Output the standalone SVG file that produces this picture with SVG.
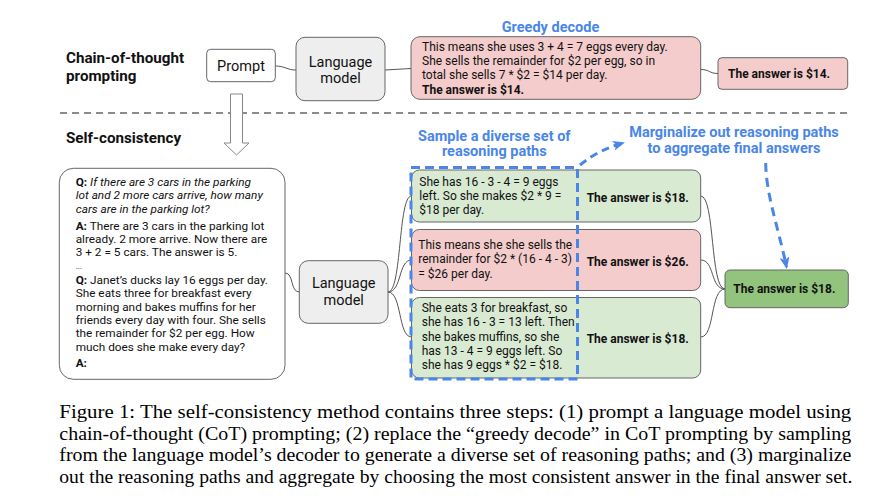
<svg xmlns="http://www.w3.org/2000/svg" width="878" height="504" viewBox="0 0 878 504">
<style>
text{font-family:Roboto,"Liberation Sans",sans-serif;fill:#111}
.h{font-weight:700;font-size:15.2px}
.blue{font-weight:700;font-size:14.5px;fill:#4a86e8;text-anchor:middle}
.lm{font-size:14.5px;text-anchor:middle}
.t{font-size:12px}
.p{font-size:11.8px}
.b{font-weight:700}
.i{font-style:italic}
.ans{font-size:12px;font-weight:700}
.box{stroke:#666;stroke-width:1}
.conn path{fill:none;stroke:#555;stroke-width:1}
.cap{font-family:"Liberation Serif","Times New Roman",serif;font-size:19.5px;fill:#000}
</style>
<defs>
<marker id="ah" viewBox="0 0 12 10" refX="10" refY="5" markerWidth="12" markerHeight="10" markerUnits="userSpaceOnUse" orient="auto">
<path d="M0,0 L12,5 L0,10 L3,5 Z" fill="#4a86e8"/>
</marker>
</defs>
<rect width="878" height="504" fill="#fff"/>

<!-- section labels -->
<g id="labels">
<text class="h" x="66" y="63">Chain-of-thought</text>
<text class="h" x="66" y="80.5">prompting</text>
<text class="h" x="66" y="143.3">Self-consistency</text>
<text class="blue" x="550.5" y="31.7">Greedy decode</text>
<text class="blue" x="494.3" y="140.7">Sample a diverse set of</text>
<text class="blue" x="494.3" y="156">reasoning paths</text>
<text class="blue" x="734" y="137.3">Marginalize out reasoning paths</text>
<text class="blue" x="734" y="153.3">to aggregate final answers</text>
</g>

<!-- separator -->
<line x1="60" y1="113" x2="847" y2="113" stroke="#666" stroke-width="1.5" stroke-dasharray="7 5"/>

<!-- connectors -->
<g id="connectors" class="conn">
<path d="M275.3,66 C285,66 287,70 296,70"/>
<path d="M385,70 L411,68.5"/>
<path d="M700.7,69.5 C710,69.5 709,73.5 718,73.5"/>
<path d="M285,273 C294,273 290,292 299.3,292"/>
<path d="M388,292 C402,292 398,196 411.5,196"/>
<path d="M388,292 C402,292 398,260 411.5,260"/>
<path d="M388,292 C402,292 398,337 411.5,337"/>
<path d="M700.7,196 C715,196 710,289 725,289"/>
<path d="M700.7,260 C715,260 710,289 725,289"/>
<path d="M700.7,337 C715,337 710,289 725,289"/>
</g>

<!-- hollow arrow -->
<g id="cot-to-sc">
<path d="M230.5,94 L242.5,94 L242.5,143 L249,143 L236.5,155 L224,143 L230.5,143 Z" fill="#fff" stroke="#888" stroke-width="1"/>
</g>

<g id="prompt">
<rect class="box" x="206.7" y="49.3" width="68.6" height="32.4" rx="4" fill="#fff"/>
<text class="lm" x="241" y="70.7">Prompt</text>
</g>

<g id="lm1">
<rect class="box" x="296" y="37.3" width="89" height="63.4" rx="9" fill="#eee"/>
<text class="lm" x="340.5" y="66.7">Language</text>
<text class="lm" x="340.5" y="82.5">model</text>
</g>

<g id="greedy">
<rect class="box" x="411" y="36.7" width="289.7" height="62.6" rx="9" fill="#f4cccc"/>
<text class="t" x="422" y="51">This means she uses 3 + 4 = 7 eggs every day.</text>
<text class="t" x="422" y="65.2">She sells the remainder for $2 per egg, so in</text>
<text class="t" x="422" y="79.4">total she sells 7 * $2 = $14 per day.</text>
<text class="t b" x="422" y="93.6">The answer is $14.</text>
</g>

<g id="greedy-answer">
<rect class="box" x="718" y="57.7" width="129.7" height="31.6" rx="4" fill="#f4cccc"/>
<text class="ans" x="728" y="77.7">The answer is $14.</text>
</g>

<g id="sc-prompt">
<rect class="box" x="59.3" y="168.3" width="225.7" height="211" rx="14" fill="#fff"/>
<text class="p" x="75.7" y="186"><tspan class="b">Q:</tspan><tspan class="i"> If there are 3 cars in the parking</tspan></text>
<text class="p i" x="75.7" y="199.3">lot and 2 more cars arrive, how many</text>
<text class="p i" x="75.7" y="212.6">cars are in the parking lot?</text>
<text class="p" x="75.7" y="229.8"><tspan class="b">A:</tspan> There are 3 cars in the parking lot</text>
<text class="p" x="75.7" y="243.1">already. 2 more arrive. Now there are</text>
<text class="p" x="75.7" y="256.4">3 + 2 = 5 cars. The answer is 5.</text>
<text class="p" x="75.7" y="268.5" style="font-size:8px">...</text>
<text class="p" x="75.7" y="284"><tspan class="b">Q:</tspan> Janet’s ducks lay 16 eggs per day.</text>
<text class="p" x="75.7" y="297.3">She eats three for breakfast every</text>
<text class="p" x="75.7" y="310.6">morning and bakes muffins for her</text>
<text class="p" x="75.7" y="323.9">friends every day with four. She sells</text>
<text class="p" x="75.7" y="337.2">the remainder for $2 per egg. How</text>
<text class="p" x="75.7" y="350.5">much does she make every day?</text>
<text class="p b" x="75.7" y="366.7">A:</text>
</g>

<g id="lm2">
<rect class="box" x="299.3" y="260.7" width="88.7" height="62.6" rx="9" fill="#eee"/>
<text class="lm" x="343.7" y="288.3">Language</text>
<text class="lm" x="343.7" y="305">model</text>
</g>

<g id="path1">
<rect class="box" x="411.5" y="170" width="289.2" height="52" rx="8" fill="#d9ead3"/>
<text class="t" x="419.3" y="185.7">She has 16 - 3 - 4 = 9 eggs</text>
<text class="t" x="419.3" y="200">left. So she makes $2 * 9 =</text>
<text class="t" x="419.3" y="214.3">$18 per day.</text>
<text class="ans" x="586.7" y="201.7">The answer is $18.</text>
</g>

<g id="path2">
<rect class="box" x="411.5" y="229.5" width="289.2" height="61" rx="8" fill="#f4cccc"/>
<text class="t" x="418.3" y="248.7">This means she she sells the</text>
<text class="t" x="418.3" y="263.2">remainder for $2 * (16 - 4 - 3)</text>
<text class="t" x="418.3" y="277.7">= $26 per day.</text>
<text class="ans" x="586.7" y="265.7">The answer is $26.</text>
</g>

<g id="path3">
<rect class="box" x="411.5" y="297.5" width="289.2" height="80.5" rx="8" fill="#d9ead3"/>
<text class="t" x="421.7" y="311.7">She eats 3 for breakfast, so</text>
<text class="t" x="421.7" y="326.1">she has 16 - 3 = 13 left. Then</text>
<text class="t" x="421.7" y="340.5">she bakes muffins, so she</text>
<text class="t" x="421.7" y="354.9">has 13 - 4 = 9 eggs left. So</text>
<text class="t" x="421.7" y="369.3">she has 9 eggs * $2 = $18.</text>
<text class="ans" x="586.7" y="343.3">The answer is $18.</text>
</g>

<g id="final">
<rect class="box" x="725" y="270" width="123.3" height="37.7" rx="5" fill="#93c47d"/>
<text class="ans" x="733.3" y="292.7">The answer is $18.</text>
</g>

<!-- blue dashed annotations -->
<g id="sample-frame" fill="none" stroke="#4a86e8" stroke-width="3">
<rect x="411" y="167.5" width="166.5" height="211.5" stroke-dasharray="9 5"/>
<path d="M580,165 Q598,150 623,143" stroke-dasharray="8 5" marker-end="url(#ah)"/>
<path d="M765.7,163 C766,195 779,230 786.5,267" stroke-dasharray="9 6" marker-end="url(#ah)"/>
</g>

<g id="caption">
<text class="cap" x="59.3" y="418" textLength="792" lengthAdjust="spacingAndGlyphs">Figure 1: The self-consistency method contains three steps: (1) prompt a language model using</text>
<text class="cap" x="59.3" y="439.5" textLength="792" lengthAdjust="spacingAndGlyphs">chain-of-thought (CoT) prompting; (2) replace the “greedy decode” in CoT prompting by sampling</text>
<text class="cap" x="59.3" y="461" textLength="792" lengthAdjust="spacingAndGlyphs">from the language model’s decoder to generate a diverse set of reasoning paths; and (3) marginalize</text>
<text class="cap" x="59.3" y="482.5" textLength="793" lengthAdjust="spacingAndGlyphs">out the reasoning paths and aggregate by choosing the most consistent answer in the final answer set.</text>
</g>
</svg>
